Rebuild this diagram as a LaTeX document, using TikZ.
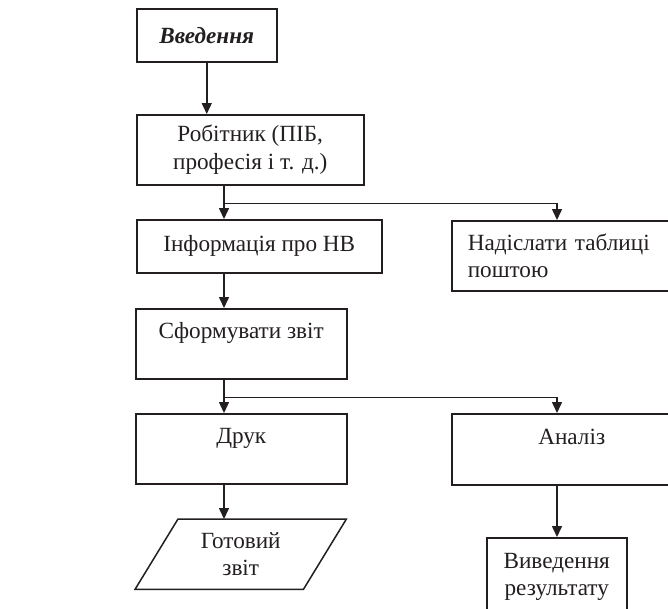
\documentclass[tikz,border=0pt]{standalone}
\usepackage{fontspec}
\setmainfont{Liberation Serif}
\usetikzlibrary{arrows.meta,calc}
\definecolor{ink}{RGB}{35,31,32}
\newcommand{\fs}{\fontsize{23.2pt}{27.5pt}\selectfont}
\begin{document}
\begin{tikzpicture}[x=1pt,y=-1pt,
  ln/.style={line width=1.5pt, draw=ink},
  arr/.style={ln,-{Triangle[length=11pt,width=10pt]}},
  box/.style={draw=ink, line width=1.5pt, rectangle, inner sep=0pt, align=center, anchor=north west, font=\fs, text=ink},
]
\useasboundingbox (0,0) rectangle (668,608);
\clip (0,0) rectangle (668,608);
\fill[white] (0,0) rectangle (668,608);

\coordinate (sL) at (224,0);
\coordinate (sR) at (557,0);

\node[box, minimum width=140pt, minimum height=53pt, font=\fs\bfseries\itshape] (intro) at (136,8) {Введення};
\node[box, minimum width=227pt, minimum height=70pt] (rob) at (136,114) {Робітник (ПІБ,\\професія і т. д.)};
\node[box, minimum width=245pt, minimum height=53pt] (info) at (136,219) {Інформація про НВ};
\node[box, minimum width=232pt, minimum height=70pt, align=left, text width=200pt, inner xsep=16pt] (nad) at (451,220) {Надіслати таблиці\\поштою};
\node[box, minimum width=211pt, minimum height=70pt] (form) at (135,308) {Сформувати звіт\\[-10pt]\strut};
\node[box, minimum width=211pt, minimum height=70pt] (druk) at (135,413) {Друк\\[-10pt]\strut};
\node[box, minimum width=240pt, minimum height=71pt] (anal) at (451,413) {Аналіз\\[-10pt]\strut};
\node[box, minimum width=140pt, minimum height=78pt] (vyv) at (486,537) {Виведення\\результату};
\node[font=\fs, text=ink, minimum width=211pt, minimum height=70pt, inner sep=0pt, anchor=north west, align=center] (got) at (135,519) {Готовий\\звіт};
\draw[ln] ([xshift=43pt]got.north west) -- (got.north east) -- ([xshift=-43pt]got.south east) -- (got.south west) -- cycle;

\draw[arr] (intro.south) -- (intro.south |- rob.north);
\draw[arr] (rob.south -| sL) -- (info.north -| sL);
\draw[arr] ($(rob.south -| sL)+(0,18)$) -| (nad.north -| sR);
\draw[arr] (info.south -| sL) -- (form.north -| sL);
\draw[arr] (form.south -| sL) -- (druk.north -| sL);
\draw[arr] ($(form.south -| sL)+(0,18)$) -| (anal.north -| sR);
\draw[arr] (druk.south -| sL) -- (got.north -| sL);
\draw[arr] (anal.south -| sR) -- (vyv.north -| sR);
\end{tikzpicture}
\end{document}
